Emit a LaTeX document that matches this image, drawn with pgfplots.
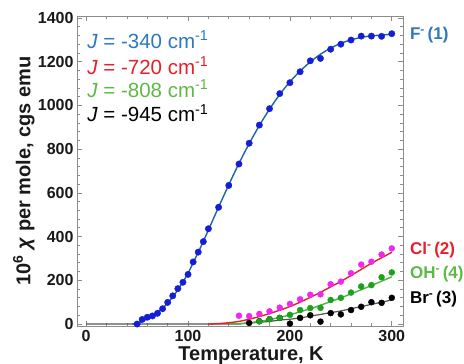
\documentclass[border=0pt]{standalone}
\usepackage{pgfplots}
\pgfplotsset{compat=1.18}
\usepackage{fontspec}
\setmainfont{Liberation Sans}
\definecolor{bluetxt}{RGB}{45,120,190}
\definecolor{bluept}{RGB}{20,30,215}
\definecolor{blueln}{RGB}{30,100,165}
\definecolor{redtxt}{RGB}{232,30,40}
\definecolor{magpt}{RGB}{240,40,235}
\definecolor{redln}{RGB}{235,30,35}
\definecolor{greentxt}{RGB}{95,185,70}
\definecolor{greenpt}{RGB}{30,160,30}
\definecolor{greenln}{RGB}{70,185,60}
\definecolor{grayln}{RGB}{85,85,85}
\definecolor{frame}{RGB}{140,140,140}
\begin{document}
\begin{tikzpicture}
\useasboundingbox (-77pt,-38pt) rectangle (387pt,326pt);
\begin{axis}[
  scale only axis, width=326pt, height=310pt,
  at={(0pt,0pt)}, anchor=south west,
  xmin=-9, xmax=311, ymin=-9, ymax=1409,
  xtick={0,100,200,300}, ytick={0,200,...,1400},
  minor x tick num=4, minor y tick num=4,
  major tick length=5pt, minor tick length=3pt,
  axis line style={frame, line width=0.8pt},
  tick style={frame, line width=0.7pt},
  /pgf/number format/1000 sep={},
  /pgf/number format/assume math mode=true,
  ticklabel style={font=\fontsize{16}{18}\selectfont\bfseries, text=black!90},
  xticklabel style={yshift=-1pt},
  xlabel={Temperature, K},
  ylabel={10\textsuperscript{6} \textit{χ} per mole, cgs emu},
  label style={font=\fontsize{20}{24}\selectfont\bfseries, text=black!90},
  xlabel style={at={(axis description cs:0.534,-0.11)}, anchor=base},
  ylabel style={at={(axis description cs:-0.163,0.5)}, anchor=center},
  clip=false,
]
% fit lines
\addplot[grayln, line width=1.2pt, smooth] coordinates {
(0,0) (140,0) (150,1) (160,4) (170,8) (180,12) (190,18) (200,22) (210,28) (220,36) (230,44) (240,52) (250,60) (260,70) (270,80) (280,90) (290,100) (300,110)};
\addplot[greenln, line width=1.4pt, smooth] coordinates {
(140,0) (150,2) (160,6) (170,12) (180,20) (190,30) (200,42) (210,56) (220,70) (230,86) (240,103) (250,120) (260,138) (270,157) (280,176) (290,196) (300,216)};
\addplot[redln, line width=1.4pt, smooth] coordinates {
(120,0) (130,2) (140,6) (150,12) (160,22) (170,34) (180,48) (190,63) (200,80) (210,100) (220,122) (230,145) (240,170) (250,195) (260,222) (270,250) (280,278) (290,303) (300,328)};
\addplot[blueln, line width=1.4pt, smooth] coordinates {
(45,0) (50,3) (55,12) (60,24) (65,38) (70,53) (75,72) (80,96) (85,124) (90,157) (95,193) (100,232) (105,280) (110,328) (115,378) (120,430) (130,535) (140,637) (150,735) (160,825) (170,908) (180,983) (190,1050) (200,1108) (210,1157) (220,1199) (230,1234) (240,1262) (250,1284) (260,1300) (270,1311) (280,1318) (290,1322) (300,1325)};
% data points
\addplot[only marks, mark=*, mark size=3pt, black, mark options={fill=black}] coordinates {
(160,5) (170,13) (180,22) (190,28) (200,2) (210,28) (220,40) (230,11) (240,50) (250,44) (260,64) (270,79) (280,100) (290,97) (300,120)};
\addplot[only marks, mark=*, mark size=3pt, greenpt, mark options={fill=greenpt}] coordinates {
(170,12) (180,22) (190,28) (200,42) (210,64) (220,73) (230,74) (240,110) (250,120) (260,144) (270,172) (280,178) (290,214) (300,236)};
\addplot[only marks, mark=*, mark size=3pt, magpt, mark options={fill=magpt}] coordinates {
(150,38) (160,36) (170,46) (180,58) (190,75) (200,92) (210,113) (220,134) (230,136) (240,182) (250,194) (260,232) (270,272) (280,285) (290,318) (300,346)};
\addplot[only marks, mark=*, mark size=3.2pt, bluept, mark options={fill=bluept}] coordinates {
(50,0) (55,21) (60,31) (65,37) (70,49) (75,70) (80,99) (85,129) (90,162) (95,191) (100,227) (105,284) (110,329) (115,377) (120,436) (130,534) (140,634) (150,732) (160,827) (170,910) (180,985) (190,1054) (200,1104) (210,1154) (220,1204) (230,1215) (240,1257) (250,1280) (260,1299) (270,1317) (280,1317) (290,1316) (300,1328)};
% annotations
\begin{scope}[every node/.style={anchor=west, inner sep=0pt, font=\fontsize{20.5}{24}\selectfont}]
\node[text=bluetxt] at (axis description cs:0.031,0.923) {\textit{J} = -340 cm\textsuperscript{-1}};
\node[text=redtxt] at (axis description cs:0.031,0.839) {\textit{J} = -720 cm\textsuperscript{-1}};
\node[text=greentxt] at (axis description cs:0.031,0.765) {\textit{J} = -808 cm\textsuperscript{-1}};
\node[text=black] at (axis description cs:0.031,0.687) {\textit{J} = -945 cm\textsuperscript{-1}};
\end{scope}
\begin{scope}[every node/.style={anchor=west, inner sep=0pt, font=\fontsize{17}{20}\selectfont\bfseries}]
\node[text=bluetxt] at (axis description cs:1.021,0.939) {F\textsuperscript{-}\,(1)};
\node[text=redtxt] at (axis description cs:1.021,0.245) {Cl\textsuperscript{-}\,(2)};
\node[text=greentxt] at (axis description cs:1.021,0.168) {OH\textsuperscript{-}\,(4)};
\node[text=black] at (axis description cs:1.021,0.087) {Br\textsuperscript{-}\,(3)};
\end{scope}
\end{axis}
\end{tikzpicture}
\end{document}
